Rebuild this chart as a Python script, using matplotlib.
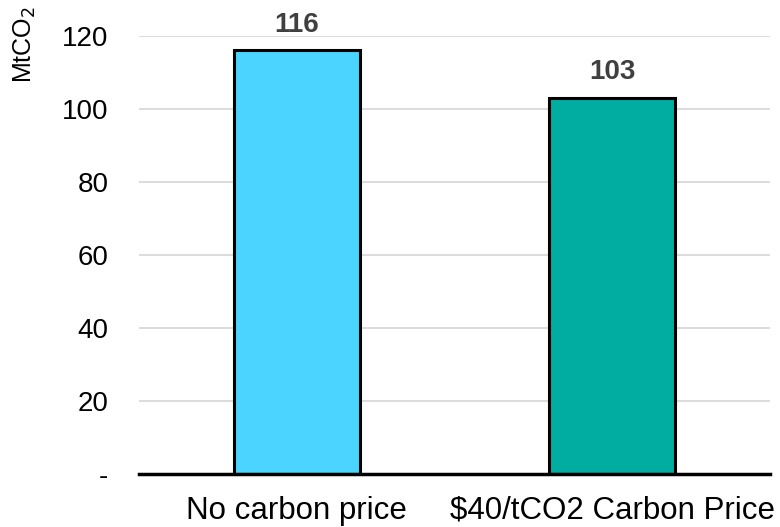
import matplotlib.pyplot as plt

plt.rcParams['font.family'] = ['Liberation Sans', 'DejaVu Sans']

# emissions under each pricing scenario
scenarios = ['No carbon price', '$40/tCO2 Carbon Price']
emissions = [116, 103]
bar_colors = ['#4AD4FF', '#00ADA0']

y_ticks = [0, 20, 40, 60, 80, 100, 120]
y_tick_labels = ['-', '20', '40', '60', '80', '100', '120']

fig = plt.figure(figsize=(7.8, 5.27), dpi=100)
ax = fig.add_axes([0.1782, 0.1015, 0.809, 0.8305])

x = range(len(scenarios))
bars = ax.bar(x, emissions, width=0.4, color=bar_colors,
              edgecolor='black', linewidth=2.2, zorder=3)

# value labels above each bar
for b, v in zip(bars, emissions):
    ax.text(b.get_x() + b.get_width() / 2, v + 3.5, str(v),
            ha='center', va='bottom', fontsize=20, fontweight='bold',
            color='#404040', clip_on=False)

ax.set_xlim(-0.5, 1.5)
ax.set_ylim(0, 120)
ax.set_yticks(y_ticks)
ax.set_yticklabels(y_tick_labels)
ax.set_xticks(list(x))
ax.set_xticklabels(scenarios)

ax.tick_params(axis='y', length=0, labelsize=20, pad=22)
ax.tick_params(axis='x', length=0, labelsize=22.5, pad=16)

ax.yaxis.grid(True, color='#D9D9D9', linewidth=1.3, zorder=0)
ax.set_axisbelow(True)

for side in ['top', 'right', 'left']:
    ax.spines[side].set_visible(False)
ax.spines['bottom'].set_linewidth(2.5)
ax.spines['bottom'].set_zorder(4)

fig.text(0.032, 0.915, 'MtCO$_2$', rotation=90, ha='center', va='center',
         fontsize=18)

fig.savefig('out.png', dpi=100)
